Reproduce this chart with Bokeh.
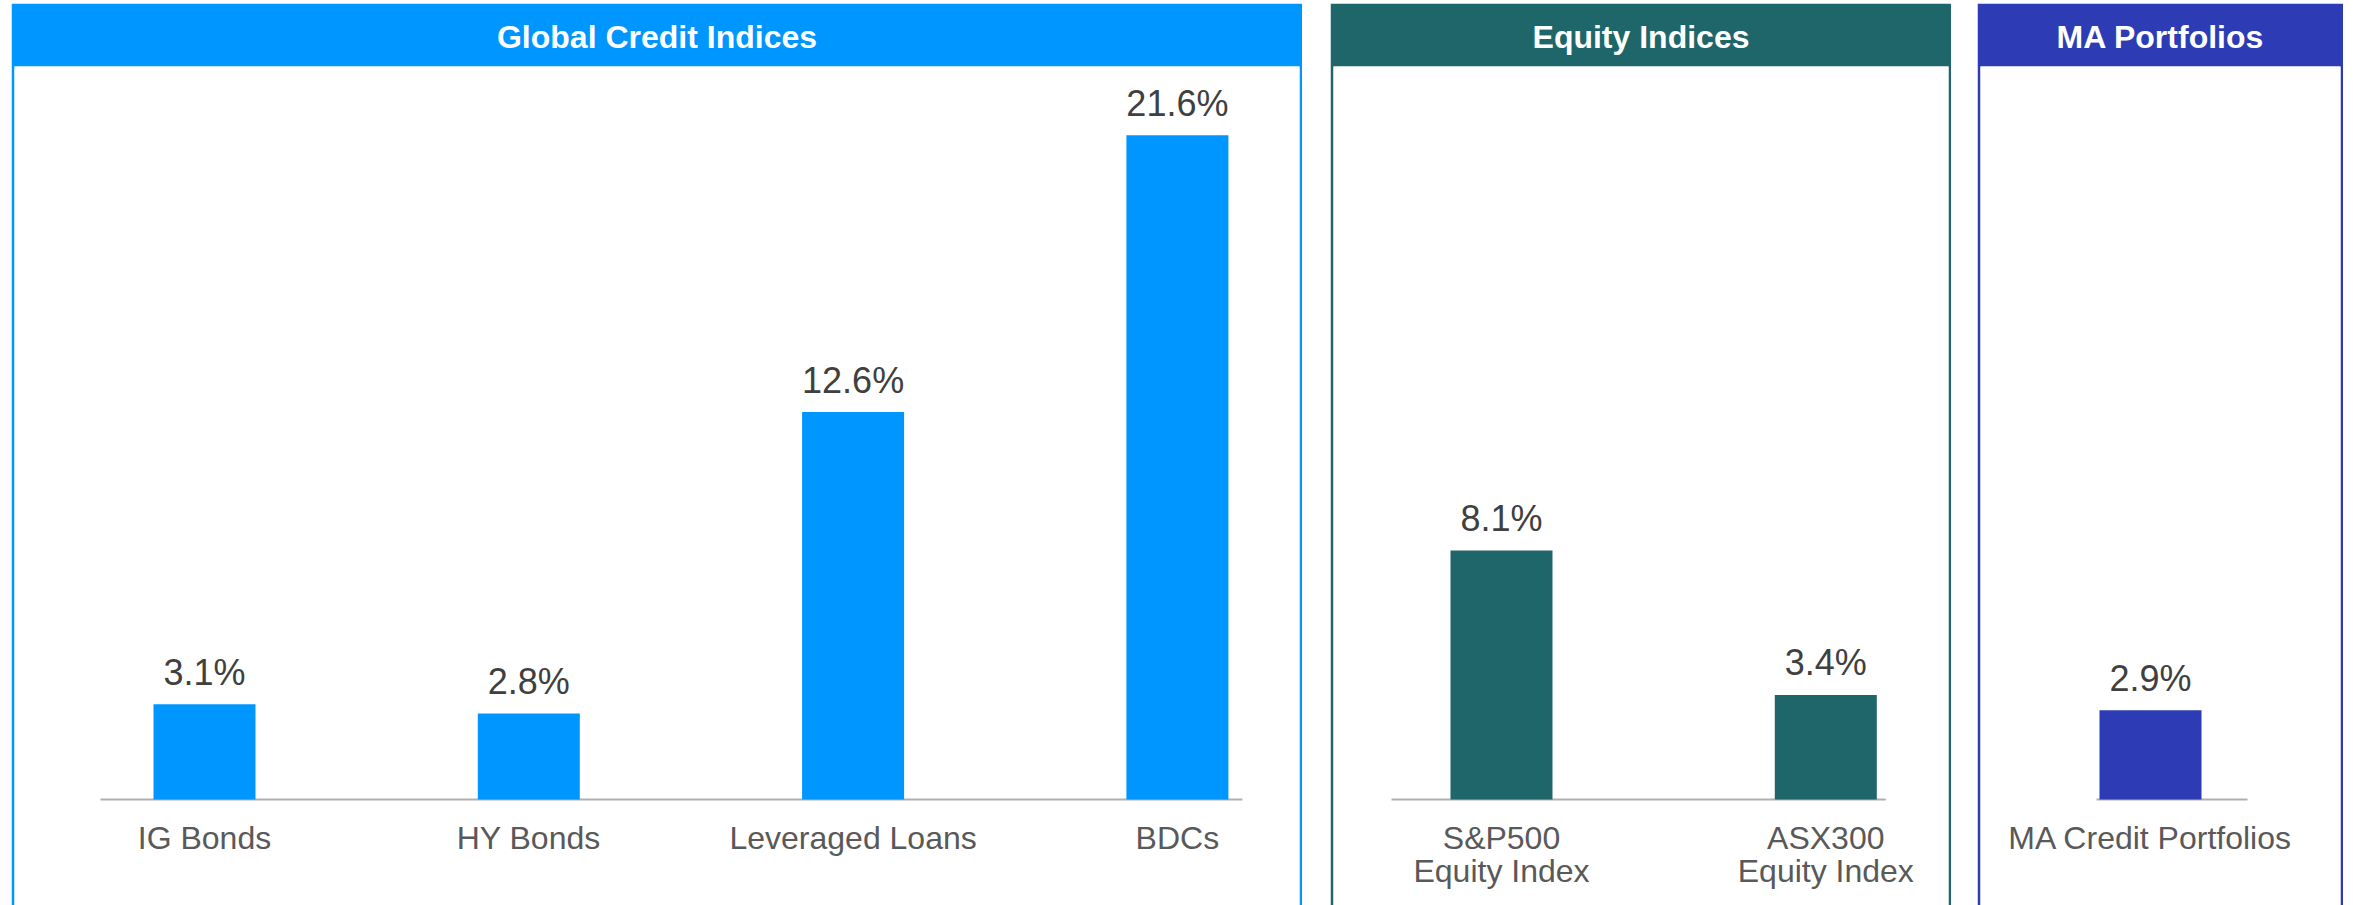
from bokeh.plotting import figure
from bokeh.layouts import row
from bokeh.models import Range1d
from bokeh.core.properties import value
from bokeh.embed import file_html
from bokeh.resources import INLINE

# ---- data ----
credit_cats = ["IG Bonds", "HY Bonds", "Leveraged Loans", "BDCs"]
credit_vals = [3.1, 2.8, 12.6, 21.6]
equity_cats = ["S&P500\nEquity Index", "ASX300\nEquity Index"]
equity_vals = [8.1, 3.4]
ma_cats = ["MA Credit Portfolios"]
ma_vals = [2.9]
titles = ["Global Credit Indices", "Equity Indices", "MA Portfolios"]

# ---- style ----
FONT = "Liberation Sans"
UNIT_PX = 324.3      # px between category centres
PCT_PX = 30.75       # px per 1 %
TOP = 3
FIG_H = 905 - TOP
HEADER_H = 63
BORDER = 3
BASE_FROM_BOTTOM = 106

panels = [
    dict(title=titles[0], cats=credit_cats, vals=credit_vals, color="#0096FF",
         width=1291, first_px=190, pad_l=104, pad_r=65, margin=(TOP, 0, 0, 11)),
    dict(title=titles[1], cats=equity_cats, vals=equity_vals, color="#1F666B",
         width=621, first_px=168, pad_l=110, pad_r=60, margin=(TOP, 0, 0, 28)),
    dict(title=titles[2], cats=ma_cats, vals=ma_vals, color="#2D3CB4",
         width=366, first_px=170, pad_l=54, pad_r=97, margin=(TOP, 0, 0, 26)),
]

figs = []
for pn in panels:
    n = len(pn["cats"])
    xs = list(range(n))
    frame_w = pn["width"] - 2 * BORDER
    frame_h = FIG_H - HEADER_H
    x0 = -pn["first_px"] / UNIT_PX
    x1 = x0 + frame_w / UNIT_PX
    y0 = -BASE_FROM_BOTTOM / PCT_PX
    y1 = y0 + frame_h / PCT_PX
    p = figure(width=pn["width"], height=FIG_H, output_backend="svg",
               toolbar_location=None, x_axis_location=None, y_axis_location=None,
               x_range=Range1d(x0, x1), y_range=Range1d(y0, y1),
               min_border_left=BORDER, min_border_right=BORDER,
               min_border_top=HEADER_H, min_border_bottom=0,
               margin=pn["margin"])
    p.xgrid.visible = False
    p.ygrid.visible = False
    p.outline_line_color = None
    p.background_fill_color = "white"
    p.border_fill_color = pn["color"]
    p.title.text = pn["title"]
    p.title.align = "center"
    p.title.text_color = "white"
    p.title.text_font = FONT
    p.title.text_font_size = "32px"
    p.title.text_font_style = "bold"
    p.title.vertical_align = "middle"
    p.title.standoff = 22

    # baseline
    p.segment(x0=[xs[0] - pn["pad_l"] / UNIT_PX], x1=[xs[-1] + pn["pad_r"] / UNIT_PX],
              y0=[0], y1=[0], line_color="#B4AFAA", line_width=2)
    # bars
    p.vbar(x=xs, top=pn["vals"], bottom=0, width=102 / UNIT_PX,
           fill_color=pn["color"], line_color=None)
    # value labels
    p.text(x=xs, y=pn["vals"], text=[f"{v:.1f}%" for v in pn["vals"]],
           text_font=value(FONT), text_font_size="36px", text_color="#404040",
           text_align="center", text_baseline="alphabetic", y_offset=-32)
    # category labels
    p.text(x=xs, y=[0] * n, text=pn["cats"], text_font=value(FONT),
           text_font_size="32px", text_color="#595959", text_align="center",
           text_baseline="top", y_offset=20, text_line_height=0.92)
    figs.append(p)

layout = row(*figs, spacing=0)
open("out.html", "w").write(file_html(layout, INLINE))
